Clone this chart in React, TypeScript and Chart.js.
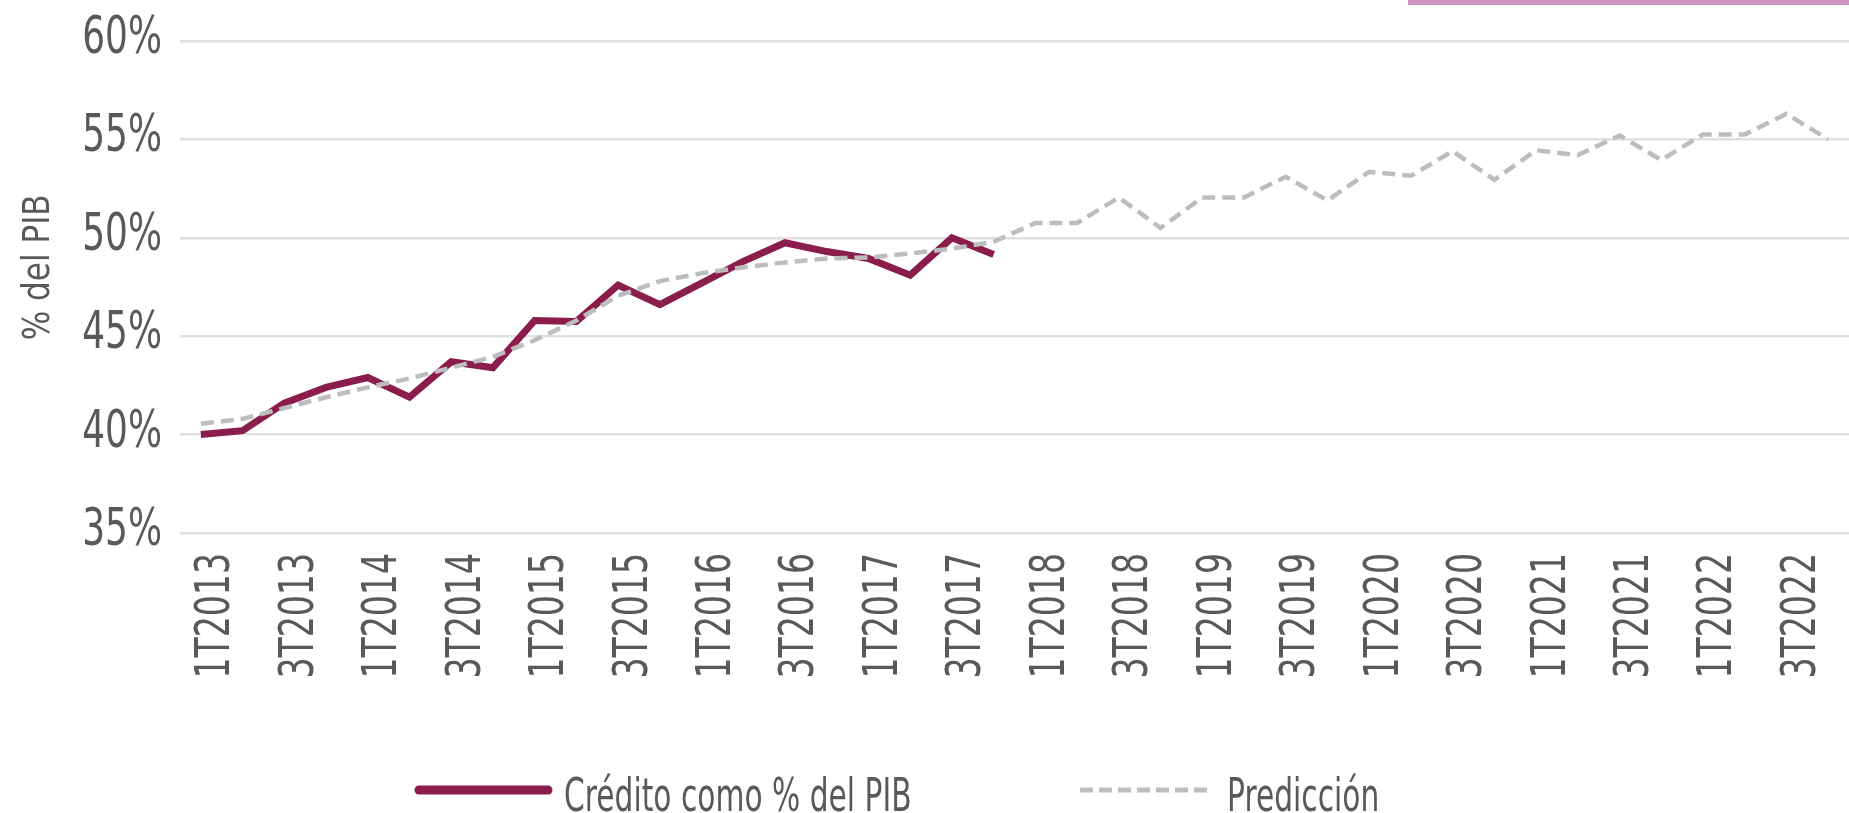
import React, { useEffect, useRef } from "react";
import { Chart, registerables } from "chart.js";

Chart.register(...registerables);

const quarters = [
  "1T2013", "2T2013", "3T2013", "4T2013",
  "1T2014", "2T2014", "3T2014", "4T2014",
  "1T2015", "2T2015", "3T2015", "4T2015",
  "1T2016", "2T2016", "3T2016", "4T2016",
  "1T2017", "2T2017", "3T2017", "4T2017",
  "1T2018", "2T2018", "3T2018", "4T2018",
  "1T2019", "2T2019", "3T2019", "4T2019",
  "1T2020", "2T2020", "3T2020", "4T2020",
  "1T2021", "2T2021", "3T2021", "4T2021",
  "1T2022", "2T2022", "3T2022", "4T2022",
];

const credito = [
  40.0, 40.2, 41.6, 42.4,
  42.9, 41.9, 43.7, 43.4,
  45.8, 45.75, 47.6, 46.6,
  47.7, 48.8, 49.75, 49.3,
  48.95, 48.1, 50.0, 49.15,
];

const prediccion = [
  40.55, 40.8, 41.35, 41.9,
  42.4, 42.85, 43.4, 43.95,
  44.8, 45.8, 47.05, 47.8,
  48.2, 48.5, 48.75, 48.95,
  49.0, 49.2, 49.45, 49.8,
  50.75, 50.75, 52.05, 50.5,
  52.05, 52.05, 53.1, 51.9,
  53.35, 53.15, 54.4, 52.95,
  54.45, 54.2, 55.2, 53.95,
  55.25, 55.25, 56.3, 55.0,
];

const yTicks = [35, 40, 45, 50, 55, 60];

const seriesNames = ["Crédito como % del PIB", "Predicción"];
const yTitle = "% del PIB";

const FONT = '"DejaVu Sans", sans-serif';
const TEXT = "#595959";
const MAROON = "#8A1D4B";
const GREY = "#BDBDBD";

function condensedText(ctx: any, text: string, k: number) {
  ctx.save();
  ctx.scale(k, 1);
  ctx.fillText(text, 0, 0);
  ctx.restore();
}

const textPlugin = {
  id: "condensedText",
  afterDraw(chart: any) {
    const { ctx, chartArea, scales } = chart;
    const xs = scales.x;
    const ys = scales.y;
    ctx.save();
    ctx.fillStyle = TEXT;

    // y tick labels
    ctx.font = `52px ${FONT}`;
    ctx.textAlign = "right";
    ctx.textBaseline = "alphabetic";
    yTicks.forEach((v) => {
      const y = ys.getPixelForValue(v);
      ctx.save();
      ctx.translate(chartArea.left - 18, y + 12);
      condensedText(ctx, v + "%", 0.69);
      ctx.restore();
    });

    // x tick labels (every other quarter)
    ctx.font = `48px ${FONT}`;
    ctx.textAlign = "right";
    ctx.textBaseline = "middle";
    quarters.forEach((q, i) => {
      if (i % 2 !== 0) return;
      const x = xs.getPixelForValue(i);
      ctx.save();
      ctx.translate(x + 16, chartArea.bottom + 20);
      ctx.rotate(-Math.PI / 2);
      condensedText(ctx, q, 0.69);
      ctx.restore();
    });

    // y axis title
    ctx.font = `37px ${FONT}`;
    ctx.textAlign = "center";
    ctx.textBaseline = "middle";
    ctx.save();
    ctx.translate(39, chartArea.top + (chartArea.bottom - chartArea.top) * 0.46);
    ctx.rotate(-Math.PI / 2);
    condensedText(ctx, yTitle, 0.84);
    ctx.restore();

    // legend
    const ly = 790;
    const tb = 811;
    ctx.lineCap = "round";
    ctx.strokeStyle = MAROON;
    ctx.lineWidth = 9;
    ctx.beginPath();
    ctx.moveTo(419, ly);
    ctx.lineTo(548, ly);
    ctx.stroke();

    ctx.lineCap = "butt";
    ctx.strokeStyle = GREY;
    ctx.lineWidth = 5;
    ctx.setLineDash([13, 6]);
    ctx.beginPath();
    ctx.moveTo(1080, ly);
    ctx.lineTo(1210, ly);
    ctx.stroke();
    ctx.setLineDash([]);

    ctx.font = `47px ${FONT}`;
    ctx.textAlign = "left";
    ctx.textBaseline = "alphabetic";
    ctx.save();
    ctx.translate(564, tb);
    condensedText(ctx, seriesNames[0], 0.632);
    ctx.restore();
    ctx.save();
    ctx.translate(1227, tb);
    condensedText(ctx, seriesNames[1], 0.632);
    ctx.restore();

    ctx.restore();
  },
};

export default function App() {
  const ref = useRef<HTMLCanvasElement | null>(null);

  useEffect(() => {
    if (!ref.current) return;
    const chart = new Chart(ref.current, {
      type: "line",
      data: {
        labels: quarters,
        datasets: [
          {
            label: seriesNames[0],
            data: credito,
            borderColor: MAROON,
            backgroundColor: MAROON,
            borderWidth: 7,
            pointRadius: 0,
            tension: 0,
            order: 1,
          },
          {
            label: seriesNames[1],
            data: prediccion,
            borderColor: GREY,
            backgroundColor: GREY,
            borderWidth: 4.5,
            borderDash: [13, 7],
            pointRadius: 0,
            tension: 0,
            order: 0,
          },
        ],
      },
      options: {
        animation: false,
        responsive: true,
        maintainAspectRatio: false,
        layout: { padding: { top: 41, right: 0, left: 0, bottom: 0 } },
        plugins: {
          tooltip: { enabled: false },
          legend: { display: false },
        },
        scales: {
          x: {
            offset: true,
            grid: { display: false, drawTicks: false },
            border: { display: false },
            ticks: { display: false },
            afterFit: (axis: any) => {
              axis.height = 280;
            },
          },
          y: {
            min: yTicks[0],
            max: yTicks[yTicks.length - 1],
            afterBuildTicks: (axis: any) => {
              axis.ticks = yTicks.map((v) => ({ value: v }));
            },
            grid: { color: "#E0E0E0", lineWidth: 2.5, drawTicks: false },
            border: { display: false },
            ticks: { display: false },
            afterFit: (axis: any) => {
              axis.width = 180;
            },
          },
        },
      },
      plugins: [textPlugin],
    });
    return () => chart.destroy();
  }, []);

  return (
    <div style={{ position: "fixed", left: 0, top: 0, width: 1849, height: 813, background: "#fff" }}>
      <div style={{ position: "absolute", left: 1408, top: 0, width: 441, height: 5, background: "#D193C0" }} />
      <canvas ref={ref} />
    </div>
  );
}
